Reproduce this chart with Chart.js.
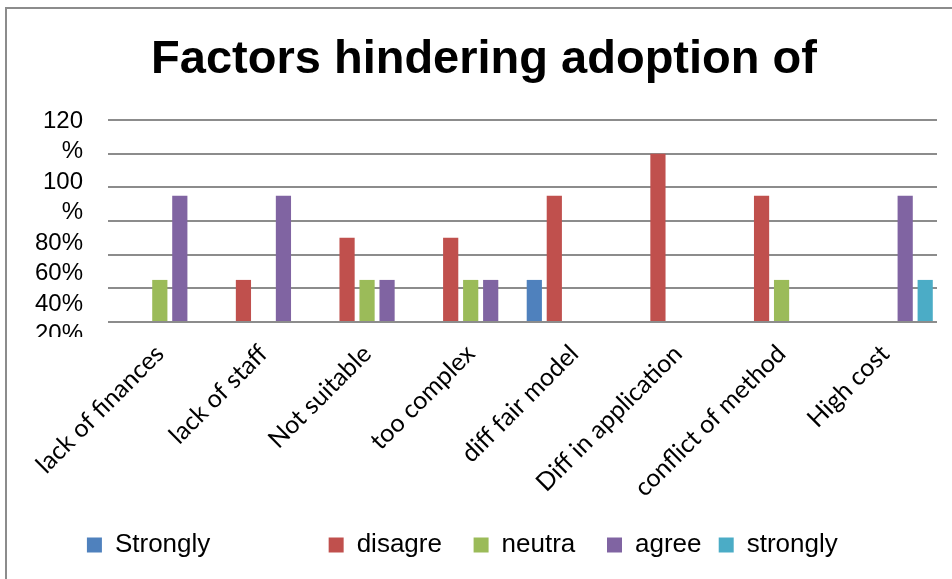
<!DOCTYPE html>
<html>
<head>
<meta charset="utf-8">
<script src="https://cdn.jsdelivr.net/npm/chart.js@4.4.1/dist/chart.umd.min.js"></script>
<style>
  html, body { margin: 0; padding: 0; background: #fff; }
  #wrap { width: 952px; height: 579px; }
</style>
</head>
<body>
<div id="wrap"><canvas id="myChart"></canvas></div>
<script>
// datos (en %)
const categories = ['lack of finances', 'lack of staff', 'Not suitable', 'too complex',
  'diff fair model', 'Diff in application', 'conflict of method', 'High cost'];
const seriesNames = ['Strongly', 'disagre', 'neutra', 'agree', 'strongly'];
const stronglyDisagree = [0, 0, 0, 0, 25, 0, 0, 0];
const disagree = [0, 25, 50, 50, 75, 100, 75, 0];
const neutral = [25, 0, 25, 25, 0, 0, 25, 0];
const agree = [75, 75, 25, 25, 0, 0, 0, 75];
const stronglyAgree = [0, 0, 0, 0, 0, 0, 0, 25];
const yMin = 0;
const yMax = 120;
const yStep = 20;

const seriesValues = [stronglyDisagree, disagree, neutral, agree, stronglyAgree];
const colors = ['#4F81BD', '#C0504D', '#9BBB59', '#8064A2', '#4BACC6'];
// espacios extra en la leyenda para imitar el reparto de Excel
const legendGaps = [15, 3, 3, 1, 6];

// marco gris del grafico
const frame = {
  id: 'frame',
  beforeDraw(chart) {
    const ctx = chart.ctx;
    ctx.save();
    ctx.fillStyle = '#fff';
    ctx.fillRect(0, 0, chart.width, chart.height);
    ctx.strokeStyle = '#8c8c8c';
    ctx.lineWidth = 2;
    ctx.strokeRect(6, 8, chart.width + 20, chart.height + 20);
    ctx.restore();
  }
};

// etiquetas del eje Y apiladas como en el original (se parten y se recortan)
const yLabelColumn = {
  id: 'yLabelColumn',
  afterDraw(chart) {
    const { ctx, chartArea } = chart;
    const y = chart.scales.y;
    ctx.save();
    ctx.font = '24px "Liberation Sans", Arial, sans-serif';
    ctx.fillStyle = '#000';
    ctx.textAlign = 'right';
    ctx.textBaseline = 'middle';
    const lines = [];
    y.ticks.slice().reverse().forEach(t => {
      const txt = t.value + '%';
      if (ctx.measureText(txt).width > 52) {
        lines.push(String(t.value), '%');
      } else {
        lines.push(txt);
      }
    });
    ctx.beginPath();
    ctx.rect(0, 0, chartArea.left, chartArea.bottom + 15);
    ctx.clip();
    lines.forEach((l, i) => {
      ctx.fillText(l, chartArea.left - 25, chartArea.top + 1 + i * 30.5);
    });
    ctx.restore();
  }
};

const data = {
  labels: categories,
  datasets: seriesNames.map((name, i) => ({
    label: name,
    data: seriesValues[i],
    backgroundColor: colors[i],
    borderWidth: 0,
    categoryPercentage: 0.965,
    barPercentage: 0.76
  }))
};

const options = {
  responsive: true,
  maintainAspectRatio: false,
  animation: false,
  layout: { padding: { left: 31, right: 15, top: 0, bottom: 11 } },
  plugins: {
    title: {
      display: true,
      text: 'Factors hindering adoption of',
      color: '#000',
      font: { family: '"Liberation Sans", Arial, sans-serif', size: 47, weight: 'bold' },
      padding: { top: 32, bottom: 31.6 }
    },
    legend: {
      position: 'bottom',
      labels: {
        color: '#000',
        font: { family: '"Liberation Sans", Arial, sans-serif', size: 26 },
        boxWidth: 15,
        boxHeight: 15,
        padding: 10,
        generateLabels(chart) {
          return chart.data.datasets.map((ds, i) => ({
            text: ds.label + ' '.repeat(legendGaps[i]),
            fillStyle: ds.backgroundColor,
            strokeStyle: ds.backgroundColor,
            lineWidth: 0,
            hidden: false,
            datasetIndex: i
          }));
        }
      }
    },
    tooltip: { enabled: false }
  },
  scales: {
    x: {
      grid: { display: false, drawTicks: false },
      border: { display: false },
      ticks: {
        color: '#000',
        font: { family: 'Lato, "Open Sans", sans-serif', size: 25 },
        maxRotation: 45,
        minRotation: 45,
        autoSkip: false,
        padding: 17
      },
      afterFit(scale) {
        scale.height = 200;
        scale.paddingLeft = 0;
        scale.paddingRight = 0;
      }
    },
    y: {
      min: yMin,
      max: yMax,
      ticks: { stepSize: yStep, display: false },
      grid: { color: '#8c8c8c', lineWidth: 2, drawTicks: false },
      border: { display: false },
      afterFit(scale) {
        scale.width = 77;
      }
    }
  }
};

const ctx = document.getElementById('myChart').getContext('2d');
const myChart = new Chart(ctx, {
  type: 'bar',
  data: data,
  options: options,
  plugins: [frame, yLabelColumn]
});
</script>
</body>
</html>
